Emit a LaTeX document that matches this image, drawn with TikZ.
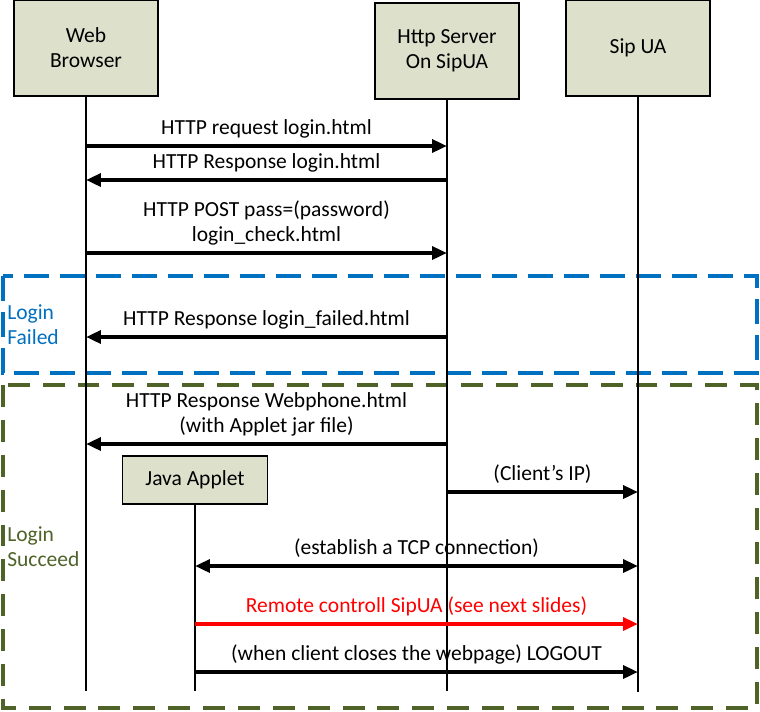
\documentclass[tikz,border=0pt]{standalone}
\usepackage{fontspec}
\setmainfont{Carlito}
\usetikzlibrary{arrows.meta,positioning}
\definecolor{boxfill}{RGB}{221,225,204}
\definecolor{failblue}{RGB}{0,112,192}
\definecolor{okgreen}{RGB}{79,98,40}

\begin{document}
\begin{tikzpicture}[x=0.025cm, y=-0.025cm,
				      font=\fontsize{15.3}{17.8}\selectfont,
				      actorBox/.style={
						      draw, line width=1.2pt, fill=boxfill,
						      minimum width=3.6cm, minimum height=2.4cm,
						      inner sep=0pt, align=center
					      },
				      appletBox/.style={
						      actorBox, minimum width=3.625cm, minimum height=1.2cm
					      },
				      lifeline/.style={line width=0.9pt},
				      msg/.style={line width=2.8pt, -{Triangle[length=10.5pt,width=9pt]}},
				      msgBoth/.style={line width=2.8pt, {Triangle[length=10.5pt,width=9pt]}-{Triangle[length=10.5pt,width=9pt]}},
				      msgLabel/.style={above=1pt, align=center},
				      groupBox/.style={line width=2.8pt},
				      groupLabel/.style={anchor=west, align=left, inner sep=0pt}
			      ]
			      \useasboundingbox (0,0) rectangle (760,711);

			      % Group frames
			      \draw[groupBox, failblue, dash pattern=on 17.8pt off 7.8pt] (3,276) rectangle (757,373);
			      \draw[groupBox, okgreen, dash pattern=on 15.6pt off 9.2pt] (3,385) rectangle (757,708);
			      \node[groupLabel, text=failblue] (failLbl) at (7,324.5) {Login\\Failed};
			      \node[groupLabel, text=okgreen] (okLbl) at (7,546.5) {Login\\Succeed};

			      % Actors
			      \node[actorBox] (wb) at (86,48) {Web\\Browser};
			      \node[actorBox] (srv) at (447,51) {Http Server\\On SipUA};
			      \node[actorBox] (ua) at (638,48) {Sip UA};
			      \node[appletBox] (ja) at (195,480) {Java Applet};

			      % Lifelines
			      \coordinate (wbEnd) at (86,691);
			      \coordinate (srvEnd) at (447,691);
			      \coordinate (uaEnd) at (638,692);
			      \coordinate (jaEnd) at (195,691);
			      \draw[lifeline] (wb.south) -- (wbEnd);
			      \draw[lifeline] (srv.south) -- (srvEnd);
			      \draw[lifeline] (ua.south) -- (uaEnd);
			      \draw[lifeline] (ja.south) -- (jaEnd);

			      % Message rows
			      \coordinate (r1) at (0,146);
			      \coordinate (r2) at (0,180);
			      \coordinate (r3) at (0,253);
			      \coordinate (r4) at (0,337);
			      \coordinate (r5) at (0,444);
			      \coordinate (r6) at (0,492);
			      \coordinate (r7) at (0,566);
			      \coordinate (r8) at (0,624);
			      \coordinate (r9) at (0,672);

			      \draw[msg] (wbEnd |- r1) -- node[msgLabel] {HTTP request login.html} (srvEnd |- r1);
			      \draw[msg] (srvEnd |- r2) -- node[msgLabel] {HTTP Response login.html} (wbEnd |- r2);
			      \draw[msg] (wbEnd |- r3) -- node[msgLabel] {HTTP POST pass=(password)\\login\_check.html} (srvEnd |- r3);
			      \draw[msg] (srvEnd |- r4) -- node[msgLabel] {HTTP Response login\_failed.html} (wbEnd |- r4);
			      \draw[msg] (srvEnd |- r5) -- node[msgLabel] {HTTP Response Webphone.html\\(with Applet jar file)} (wbEnd |- r5);
			      \draw[msg] (srvEnd |- r6) -- node[msgLabel] {(Client’s IP)} (uaEnd |- r6);
			      \draw[msgBoth] (jaEnd |- r7) -- node[msgLabel] {(establish a TCP connection)} (uaEnd |- r7);
			      \draw[msg, red] (jaEnd |- r8) -- node[msgLabel] {Remote controll SipUA (see next slides)} (uaEnd |- r8);
			      \draw[msg] (jaEnd |- r9) -- node[msgLabel] {(when client closes the webpage) LOGOUT} (uaEnd |- r9);
		      \end{tikzpicture}
\end{document}
